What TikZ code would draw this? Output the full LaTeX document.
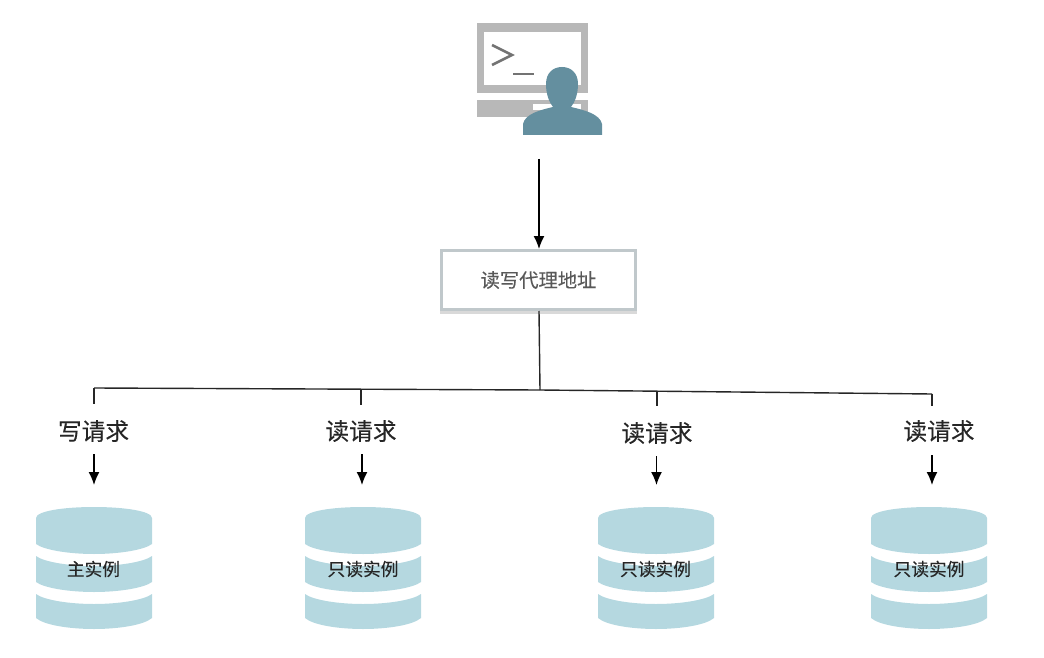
\documentclass[tikz,border=0pt]{standalone}
\usepackage{fontspec}
\setmainfont{Noto Sans CJK SC}[FakeBold=0.15]
\usetikzlibrary{arrows.meta}
\definecolor{cyl}{HTML}{B5D8E0}
\definecolor{person}{HTML}{648F9F}
\definecolor{screen}{HTML}{B8B8B8}
\definecolor{boxline}{HTML}{C0C8CB}
\tikzset{
  x=1pt,y=-1pt,
  link/.style={draw=black!85,line width=1.4pt},
  flow/.style={draw=black,line width=1.4pt,-{Latex[length=13pt,width=11pt]}},
  reqlabel/.style={font=\fontsize{23.7}{26}\selectfont,text=black!85,inner sep=0pt},
  dblabel/.style={font=\fontsize{17.7}{20}\selectfont,text=black!85,inner sep=0pt},
  proxybox/.style={draw=boxline,line width=3pt,fill=white,minimum width=194pt,minimum height=59pt,inner sep=0pt,
     font=\fontsize{19.3}{22}\selectfont,text=black!65},
}
% #1 centre x
\newcommand{\dbstack}[1]{%
  \begin{scope}[shift={(#1,0)}]
    \fill[cyl] (-58,518) .. controls (-58,511) and (-30,507) .. (0,507) .. controls (30,507) and (58,511) .. (58,518)
      -- (58,544) .. controls (50,550) and (25,554) .. (0,554) .. controls (-25,554) and (-50,550) .. (-58,544) -- cycle;
    \fill[cyl] (-58,556) .. controls (-50,562) and (-25,566) .. (0,566) .. controls (25,566) and (50,562) .. (58,556)
      -- (58,582) .. controls (50,588) and (25,592) .. (0,592) .. controls (-25,592) and (-50,588) .. (-58,582) -- cycle;
    \fill[cyl] (-58,594) .. controls (-50,600) and (-25,604) .. (0,604) .. controls (25,604) and (50,600) .. (58,594)
      -- (58,618) .. controls (50,625) and (25,629) .. (0,629) .. controls (-25,629) and (-50,625) .. (-58,618) -- cycle;
  \end{scope}}
\begin{document}
\begin{tikzpicture}
\useasboundingbox (0,0) rectangle (1044,658);
% terminal
\fill[screen] (477,23) rectangle (588,93);
\fill[white] (484,32) rectangle (581,85);
\fill[screen] (477,100) rectangle (588,117);
\fill[white] (533,104) rectangle (581,110);
\draw[black!55,line width=2.6pt] (492,45) -- (512,55) -- (492,65);
\draw[black!55,line width=2.2pt] (513,74) -- (534,74);
% user
\fill[person] (523,135) -- (523,124) .. controls (525,114) and (540,110) .. (553,107)
  .. controls (549,102) and (546,94) .. (546,84) .. controls (546,73) and (553,67) .. (562,67)
  .. controls (571,67) and (578,73) .. (578,84) .. controls (578,94) and (575,102) .. (571,107)
  .. controls (584,110) and (600,114) .. (602,124) -- (602,135) -- cycle;
\coordinate (user) at (539,159);
% proxy
\fill[black!15] (440,310) rectangle (637,314);
\node[proxybox] (proxy) at (538.5,280) {\raisebox{-1pt}{读写代理地址}};
\draw[flow] (user) -- (user |- proxy.north);
% bus
\coordinate (hub) at (540,390);
\coordinate (b1) at (94,388);
\coordinate (b2) at (361,390);
\coordinate (b3) at (657,392);
\coordinate (b4) at (932,394);
\draw[link] (user |- proxy.south) -- (hub);
\draw[link] (b1) -- (hub) -- (b4);
\coordinate (d1) at (94,404);
\coordinate (d2) at (361,405);
\coordinate (d3) at (657,406);
\coordinate (d4) at (932,406);
\draw[link] (b1) -- (d1);
\draw[link] (b2) -- (d2);
\draw[link] (b3) -- (d3);
\draw[link] (b4) -- (d4);
% request labels
\node[reqlabel] (r1) at (93.5,431) {写请求};
\node[reqlabel] (r2) at (361,431) {读请求};
\node[reqlabel] (r3) at (657,433) {读请求};
\node[reqlabel] (r4) at (939,431) {读请求};
% databases
\dbstack{94}
\dbstack{363}
\dbstack{656}
\dbstack{929}
\node[dblabel] (db1) at (93.5,569) {主实例};
\node[dblabel] (db2) at (363,569) {只读实例};
\node[dblabel] (db3) at (655.5,569) {只读实例};
\node[dblabel] (db4) at (929,569) {只读实例};
\coordinate (t1) at (94,485);
\coordinate (t2) at (362,485);
\coordinate (t3) at (656.5,485);
\coordinate (t4) at (932,485);
\coordinate (s1) at (94,454);
\coordinate (s2) at (362,454);
\coordinate (s3) at (656.5,456);
\coordinate (s4) at (932,455);
\draw[flow] (s1) -- (t1);
\draw[flow] (s2) -- (t2);
\draw[flow] (s3) -- (t3);
\draw[flow] (s4) -- (t4);
\end{tikzpicture}
\end{document}
